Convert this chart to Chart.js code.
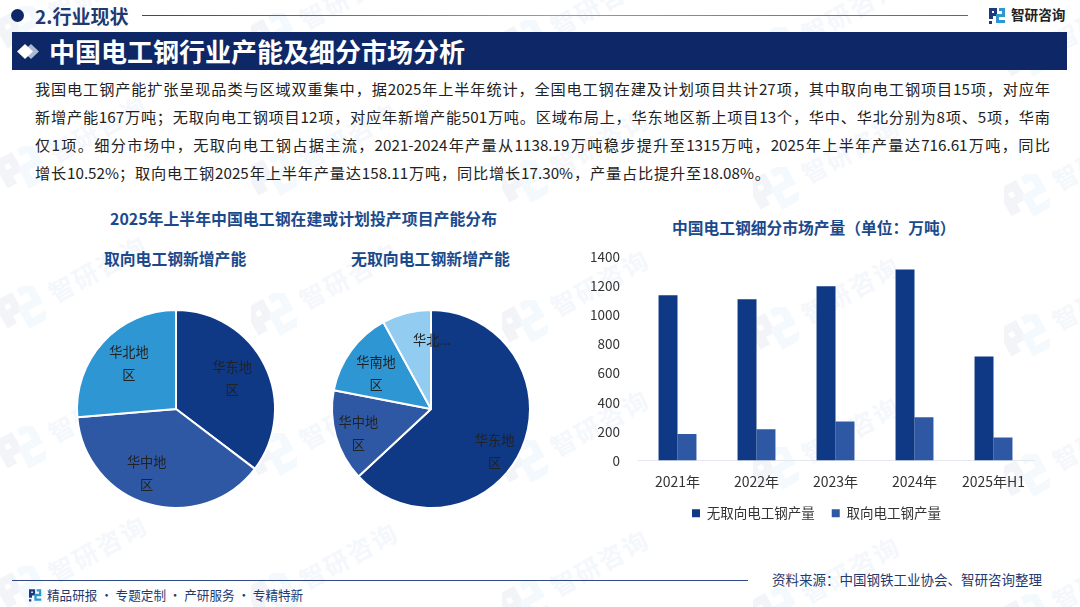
<!DOCTYPE html>
<html lang="zh">
<head>
<meta charset="utf-8">
<title>中国电工钢行业产能及细分市场分析</title>
<script src="https://cdn.jsdelivr.net/npm/chart.js@4"></script>
<style>
html, body { margin: 0; padding: 0; background: #fff; }
body { position: relative; width: 1080px; height: 607px; overflow: hidden; font-family: "Noto Sans CJK SC", "Noto Sans", sans-serif; color: #222; }
.abs { position: absolute; white-space: nowrap; }
canvas { position: absolute; }
.wm { position: absolute; color: #f4f7fb; font-size: 25px; font-weight: 700; letter-spacing: 2px; transform: rotate(-29deg); transform-origin: left center; white-space: nowrap; }
.wm-logo { position: absolute; opacity: .05; }
.band { position: absolute; left: 12px; top: 32px; width: 1055px; height: 38px; background: #0e2766; }
.band-title { left: 49px; top: 32px; line-height: 37px; color: #fff; font-size: 26px; font-weight: 700; }
.para { position: absolute; left: 35px; top: 74px; width: 1015px; font-size: 15.2px; line-height: 28px; color: #222; }
.para div { text-align: justify; text-align-last: justify; white-space: nowrap; }
.para div:last-child { width: 735px; }
.ctitle { color: #1b4a8c; font-weight: 700; font-size: 15.8px; line-height: 20px; }
</style>
</head>
<body>
<div id="watermarks"></div>

<div class="abs" style="left:11px;top:9px;width:13px;height:13px;border-radius:50%;background:#0e2766"></div>
<div class="abs" style="left:35px;top:1px;line-height:30px;font-size:19px;font-weight:700;color:#1f3a70">2.行业现状</div>
<div class="abs" style="left:142px;top:15px;width:826px;height:1px;background:linear-gradient(90deg,#33497f,#8b9cc4 50%,#4f659a)"></div>
<svg class="abs" style="left:989px;top:7px" width="17" height="17" viewBox="0 0 17 17">
  <path d="M0 1h8v8H4v3H0zM3 4v2h2V4z" fill="#1d3a80"/><rect x="0" y="14" width="3" height="3" fill="#1d3a80"/>
  <path d="M10 1h6v9h-6v3h6v3H7v-9h6V4h-3z" fill="#2e96d3"/>
</svg>
<div class="abs" style="left:1011px;top:3px;line-height:22px;font-size:13.6px;font-weight:700;color:#222">智研咨询</div>

<div class="band"></div>
<svg class="abs" style="left:15px;top:43px" width="26" height="17" viewBox="0 0 26 17">
  <path d="M16 1l8 7.5-8 7.5-8-7.5z" fill="#aeb9d2"/><path d="M10 1l8 7.5-8 7.5-8-7.5z" fill="#fff"/>
</svg>
<div class="abs band-title">中国电工钢行业产能及细分市场分析</div>

<div class="para">
  <div>我国电工钢产能扩张呈现品类与区域双重集中，据2025年上半年统计，全国电工钢在建及计划项目共计27项，其中取向电工钢项目15项，对应年</div>
  <div>新增产能167万吨；无取向电工钢项目12项，对应年新增产能501万吨。区域布局上，华东地区新上项目13个，华中、华北分别为8项、5项，华南</div>
  <div>仅1项。细分市场中，无取向电工钢占据主流，2021-2024年产量从1138.19万吨稳步提升至1315万吨，2025年上半年产量达716.61万吨，同比</div>
  <div>增长10.52%；取向电工钢2025年上半年产量达158.11万吨，同比增长17.30%，产量占比提升至18.08%。</div>
</div>

<div class="abs ctitle" style="left:110px;top:209px;font-size:15.9px">2025年上半年中国电工钢在建或计划投产项目产能分布</div>
<div class="abs ctitle" style="left:104px;top:249px">取向电工钢新增产能</div>
<div class="abs ctitle" style="left:351px;top:249px;font-size:15.9px">无取向电工钢新增产能</div>
<div class="abs ctitle" style="left:672px;top:218px;font-size:15.75px">中国电工钢细分市场产量（单位：万吨）</div>

<canvas id="pie-grain" width="220" height="220" style="left:66px;top:299px"></canvas>
<canvas id="pie-nongrain" width="220" height="220" style="left:321px;top:299px"></canvas>
<canvas id="bar-output" width="480" height="299" style="left:580px;top:231px"></canvas>

<div class="abs" style="left:12px;top:580px;width:736px;height:1px;background:#2f4a86"></div>
<div class="abs" style="left:772px;top:569px;line-height:20px;font-size:13.5px;color:#1f3a70">资料来源：中国钢铁工业协会、智研咨询整理</div>
<svg class="abs" style="left:29px;top:588px" width="13" height="14" viewBox="0 0 17 17">
  <path d="M0 1h8v8H4v3H0zM3 4v2h2V4z" fill="#1d3a80"/><rect x="0" y="14" width="3" height="3" fill="#1d3a80"/>
  <path d="M10 1h6v9h-6v3h6v3H7v-9h6V4h-3z" fill="#2e96d3"/>
</svg>
<div class="abs" style="left:47px;top:585px;line-height:20px;font-size:12.6px;color:#1f3a70">精品研报 · 专题定制 · 产研服务 · 专精特新</div>

<script>
// pie data (万吨)
const grainRegions = ['华东地区', '华中地区', '华北地区'];
const grainCapacity = [59, 64, 44];
const nonGrainRegions = ['华东地区', '华中地区', '华南地区', '华北地区'];
const nonGrainCapacity = [316, 75, 70, 40];

// bar data
const years = ['2021年', '2022年', '2023年', '2024年', '2025年H1'];
const nonGrainOutput = [1138.19, 1110, 1200, 1315, 716.61];
const grainOutput = [182, 215, 268, 298, 158.11];
const yTicks = [0, 200, 400, 600, 800, 1000, 1200, 1400];

const DARK = '#0f3885', MID = '#2f58a4', SKY = '#2e96d3', PALE = '#93ccf1';

// faint company watermark behind everything
var wmBox = document.getElementById('watermarks');
for (var row = 0; row < 5; row++) {
	for (var col = 0; col < 5; col++) {
		var x = 22 + col * 251, y = 28 + row * 140 + col * 7;
		wmBox.insertAdjacentHTML('beforeend',
			'<svg class="wm-logo" style="left:' + (x - 22) + 'px;top:' + (y - 22) + 'px" width="46" height="46" viewBox="0 0 17 17">' +
			'<g transform="rotate(-29 8.5 8.5)"><path d="M0 1h8v8H4v3H0zM3 4v2h2V4z" fill="#1d3a80"/>' +
			'<path d="M10 1h6v9h-6v3h6v3H7v-9h6V4h-3z" fill="#2e96d3"/></g></svg>' +
			'<div class="wm" style="left:' + (x + 28) + 'px;top:' + (y - 32) + 'px">智研咨询</div>');
	}
}

// draws the wrapped region names on the slices, the way the source chart wraps them
const sliceLabels = {
	id: 'sliceLabels',
	afterDatasetsDraw(chart, args, opts) {
		const c = chart.ctx;
		c.save();
		c.font = '13.2px "Noto Sans CJK SC"';
		c.fillStyle = '#222';
		c.textAlign = 'center';
		c.textBaseline = 'middle';
		chart.getDatasetMeta(0).data.forEach(function (arc, i) {
			const p = arc.getProps(['x', 'y', 'startAngle', 'endAngle', 'outerRadius'], true);
			const mid = (p.startAngle + p.endAngle) / 2;
			const lx = p.x + Math.cos(mid) * p.outerRadius * 0.7 + opts.nudge[i][0];
			const ly = p.y + Math.sin(mid) * p.outerRadius * 0.7 + opts.nudge[i][1];
			const lines = opts.lines[i];
			lines.forEach(function (t, n) {
				c.fillText(t, lx, ly + (n - (lines.length - 1) / 2) * 23);
			});
		});
		c.restore();
	}
};

function makePie(id, labels, values, colors, lines, nudge) {
	return new Chart(document.getElementById(id), {
		type: 'pie',
		plugins: [sliceLabels],
		data: {
			labels: labels,
			datasets: [{ data: values, backgroundColor: colors, borderColor: '#fff', borderWidth: 2 }]
		},
		options: {
			responsive: false,
			animation: false,
			radius: 99,
			plugins: {
				legend: { display: false },
				tooltip: { enabled: false },
				sliceLabels: { lines: lines, nudge: nudge }
			}
		}
	});
}

makePie('pie-grain', grainRegions, grainCapacity, [DARK, MID, SKY],
	[['华东地', '区'], ['华中地', '区'], ['华北地', '区']],
	[[-6, 0], [-10, -2], [4, 1]]);

makePie('pie-nongrain', nonGrainRegions, nonGrainCapacity, [DARK, MID, SKY, PALE],
	[['华东地', '区'], ['华中地', '区'], ['华南地', '区'], ['华北...']],
	[[0, 15], [-6, 5], [1, 5], [18, -2]]);

// the legend sits a little right of the plot centre in the source
const legendShift = {
	id: 'legendShift',
	afterLayout(chart) {
		chart.legend.left += 10;
		chart.legend.right += 10;
	}
};

new Chart(document.getElementById('bar-output'), {
	type: 'bar',
	plugins: [legendShift],
	data: {
		labels: years,
		datasets: [
			{ label: '无取向电工钢产量', data: nonGrainOutput, backgroundColor: DARK },
			{ label: '取向电工钢产量', data: grainOutput, backgroundColor: MID }
		]
	},
	options: {
		responsive: false,
		animation: false,
		categoryPercentage: 0.48,
		barPercentage: 1,
		layout: { padding: { top: 0, right: 27, bottom: 0, left: 0 } },
		scales: {
			x: {
				grid: { display: false, drawTicks: false },
				border: { color: '#e4e7ef', width: 1 },
				ticks: { color: '#333', font: { size: 14, family: '"Noto Sans CJK SC"' }, padding: 13, maxRotation: 0 },
				afterFit(axis) { axis.height = 29; }
			},
			y: {
				min: 0,
				max: 1400,
				grid: { display: false, drawTicks: false },
				border: { display: false },
				ticks: {
					color: '#333',
					padding: 18,
					font: { size: 13.5, family: '"Noto Sans CJK SC"' },
					stepSize: 200,
					callback: function (v) { return yTicks.indexOf(v) >= 0 ? v : ''; }
				},
				afterFit(axis) { axis.width = 58; }
			}
		},
		plugins: {
			tooltip: { enabled: false },
			legend: {
				position: 'bottom',
				labels: {
					boxWidth: 8,
					boxHeight: 8,
					color: '#333',
					padding: 17,
					font: { size: 13.5, family: '"Noto Sans CJK SC"' }
				}
			}
		}
	}
});
</script>
</body>
</html>
